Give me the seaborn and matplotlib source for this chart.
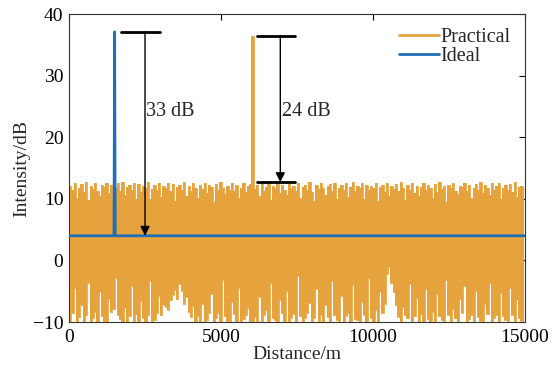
import numpy as np
import pandas as pd
import matplotlib
matplotlib.use("Agg")
import matplotlib.pyplot as plt
import seaborn as sns

# ---- data ----
bin_width = 75.0  # m per envelope sample
practical_peaks = [
    12.1, 11.4, 12.6, 10.2, 11.8, 12.4, 11.1, 12.7, 9.8, 12.0, 11.6, 12.5, 11.2, 10.4, 12.3, 11.9, 12.6, 11.0, 12.2, 9.6,
    11.7, 12.5, 11.3, 12.8, 10.6, 11.9, 12.2, 11.5, 12.6, 10.0, 12.4, 11.1, 12.0, 11.8, 12.7, 9.9, 11.6, 12.3, 11.4, 12.5,
    10.3, 12.1, 11.7, 12.6, 11.2, 12.4, 9.7, 11.9, 12.2, 11.5, 12.7, 10.5, 12.0, 11.3, 12.5, 11.8, 10.1, 12.3, 11.6, 12.6,
    11.0, 12.2, 11.9, 9.5, 12.4, 11.4, 12.7, 11.7, 10.8, 12.1, 11.5, 12.6, 11.2, 12.3, 10.2, 11.8, 12.5, 11.1, 12.0, 12.4,
    36.5, 11.6, 12.2, 10.4, 12.6, 11.3, 11.9, 12.5, 9.8, 12.1, 11.7, 12.8, 11.0, 12.3, 11.5, 10.6, 12.4, 11.8, 12.0, 11.2,
    12.6, 10.1, 11.9, 12.3, 11.4, 12.7, 11.1, 9.7, 12.2, 11.6, 12.5, 11.8, 10.7, 12.0, 12.4, 11.3, 12.6, 9.9, 11.7, 12.2,
    11.5, 12.5, 10.3, 11.9, 12.7, 11.2, 12.1, 11.8, 12.6, 10.0, 12.3, 11.4, 12.0, 11.7, 12.5, 9.6, 11.9, 12.2, 11.1, 12.6,
    10.5, 12.0, 11.6, 12.4, 11.3, 12.8, 11.8, 9.8, 12.2, 11.5, 12.5, 11.0, 12.1, 10.4, 11.9, 12.6, 11.4, 12.3, 11.7, 10.2,
    12.4, 11.1, 12.7, 11.6, 12.0, 9.5, 12.3, 11.8, 12.5, 11.2, 10.8, 12.1, 11.9, 12.6, 11.3, 12.2, 10.1, 11.7, 12.4, 11.5,
    12.8, 11.0, 12.2, 11.8, 10.6, 12.5, 11.4, 12.0, 12.6, 9.9, 11.7, 12.3, 11.5, 12.4, 11.1, 12.7, 10.3, 11.9, 12.1, 11.6,
]
practical_troughs = [
    -10.0, -8.6, -4.5, -10.0, -9.2, -7.2, -10.0, -8.8, -3.6, -10.0, -9.4, -8.4, -10.0, -5.1, -9.0, -10.0, -10.0, -6.3, -8.4, -7.9,
    -2.9, -8.9, -9.5, -10.0, -7.8, -10.0, -9.1, -4.2, -10.0, -8.7, -10.0, -6.6, -9.3, -10.0, -8.9, -3.3, -10.0, -9.6, -8.5, -5.7,
    -8.8, -7.2, -7.5, -8.0, -6.4, -5.6, -4.8, -6.2, -3.9, -5.0, -7.1, -6.0, -8.3, -9.2, -7.4, -10.0, -9.0, -10.0, -7.0, -10.0,
    -9.7, -8.6, -5.4, -10.0, -9.3, -8.6, -10.0, -3.1, -9.1, -9.9, -10.0, -6.8, -8.7, -10.0, -4.4, -10.0, -9.5, -8.8, -7.7, -10.0,
    -10.0, -9.2, -9.8, -5.9, -10.0, -8.9, -8.0, -10.0, -3.7, -9.4, -9.6, -10.0, -6.4, -8.6, -10.0, -4.9, -10.0, -9.3, -8.7, -10.0,
    -2.6, -9.0, -10.0, -9.3, -8.5, -6.9, -10.0, -9.4, -4.6, -10.0, -8.9, -10.0, -7.3, -9.2, -10.0, -3.4, -8.8, -9.7, -10.0, -5.8,
    -10.0, -9.1, -8.5, -10.0, -4.0, -9.5, -9.6, -10.0, -6.7, -8.8, -10.0, -2.8, -9.3, -10.0, -8.1, -10.0, -5.2, -8.6, -7.0, -2.2,
    -1.0, -3.6, -5.1, -7.3, -9.2, -10.0, -7.6, -8.9, -9.4, -3.8, -10.0, -9.0, -6.1, -10.0, -8.7, -10.0, -4.7, -9.5, -10.0, -8.3,
    -10.0, -5.5, -9.1, -9.7, -10.0, -3.2, -8.8, -10.0, -7.9, -9.3, -10.0, -6.2, -8.6, -4.1, -10.0, -9.5, -8.9, -10.0, -5.0, -9.2,
    -9.8, -10.0, -7.1, -8.7, -3.6, -10.0, -9.4, -8.8, -10.0, -5.3, -9.1, -9.6, -10.0, -4.4, -8.9, -10.0, -6.5, -9.3, -9.9, -10.0,
]
ideal_x = [0, 1480, 1500, 1520, 15000]
ideal_y = [4.0, 4.0, 37.1, 4.0, 4.0]

annot_33 = dict(bar_x=(1700, 3000), top=37.1, arrow_x=2500, bottom=4.0, label="33 dB")
annot_24 = dict(bar_x=(6200, 7450), top=36.5, arrow_x=6950, bottom=12.7, label="24 dB")
label_y = 24.2

x_ticks = [0, 5000, 10000, 15000]
y_ticks = [-10, 0, 10, 20, 30, 40]

# ---- tables ----
px = (np.arange(len(practical_peaks)) + 0.5) * bin_width
df_peak = pd.DataFrame({"Distance": px, "Intensity": practical_peaks})
df_trough = pd.DataFrame({"Distance": px, "Intensity": practical_troughs})
df_i = pd.DataFrame({"Distance": ideal_x, "Intensity": ideal_y})

sns.set_theme(style="white")
plt.rcParams["font.family"] = ["Liberation Serif", "DejaVu Serif"]

fig = plt.figure(figsize=(5.53, 3.75), dpi=100)
ax = fig.add_axes([0.1248, 0.1413, 0.8246, 0.8213])

orange = "#E6A23C"
blue = "#1F6FB8"
# practical: dense oscillation drawn as its peak/trough envelope
ax.fill_between(df_peak["Distance"], df_trough["Intensity"], df_peak["Intensity"],
                step="mid", color=orange, lw=0, zorder=2)
sns.lineplot(data=df_peak, x="Distance", y="Intensity", ax=ax, color=orange, lw=0.6,
             sort=False, estimator=None, drawstyle="steps-mid", label="Practical", zorder=2)
sns.lineplot(data=df_trough, x="Distance", y="Intensity", ax=ax, color=orange, lw=0.6,
             sort=False, estimator=None, drawstyle="steps-mid", zorder=2)
sns.lineplot(data=df_i, x="Distance", y="Intensity", ax=ax, color=blue,
             lw=2.0, sort=False, estimator=None, label="Ideal", zorder=3)

for a in (annot_33, annot_24):
    ax.plot(a["bar_x"], [a["top"], a["top"]], color="black", lw=2, zorder=4)
    ax.annotate("", xy=(a["arrow_x"], a["bottom"]), xytext=(a["arrow_x"], a["top"]),
                arrowprops=dict(arrowstyle="-|>", color="black", lw=1.0,
                                mutation_scale=14, shrinkA=0, shrinkB=0), zorder=4)
    ax.text(a["arrow_x"] + 40, label_y, a["label"], fontsize=14.5, va="center", ha="left")
ax.plot(annot_24["bar_x"], [annot_24["bottom"]] * 2, color="black", lw=2, zorder=4)

ax.set_xlim(0, 15000)
ax.set_ylim(-10, 40)
ax.set_xticks(x_ticks)
ax.set_yticks(y_ticks)
ax.set_yticklabels(["\u221210" if v < 0 else str(v) for v in y_ticks])
ax.tick_params(direction="in", top=True, right=True, length=4, width=0.8,
               labelsize=14, colors="black")
ax.tick_params(axis="x", pad=5)
ax.tick_params(axis="y", pad=4)
ax.set_xlabel("Distance/m", fontsize=14, labelpad=0)
ax.set_ylabel("Intensity/dB", fontsize=14, labelpad=2)
for s in ax.spines.values():
    s.set_color("#333333")
    s.set_linewidth(0.8)
    s.set_zorder(1)

leg = ax.legend(loc="upper right", frameon=False, fontsize=14.5, handlelength=2.0,
                borderaxespad=0.3, labelspacing=0.0, handletextpad=0.1)
for line in leg.get_lines():
    line.set_linewidth(2.0)

fig.savefig("out.png", dpi=100)
